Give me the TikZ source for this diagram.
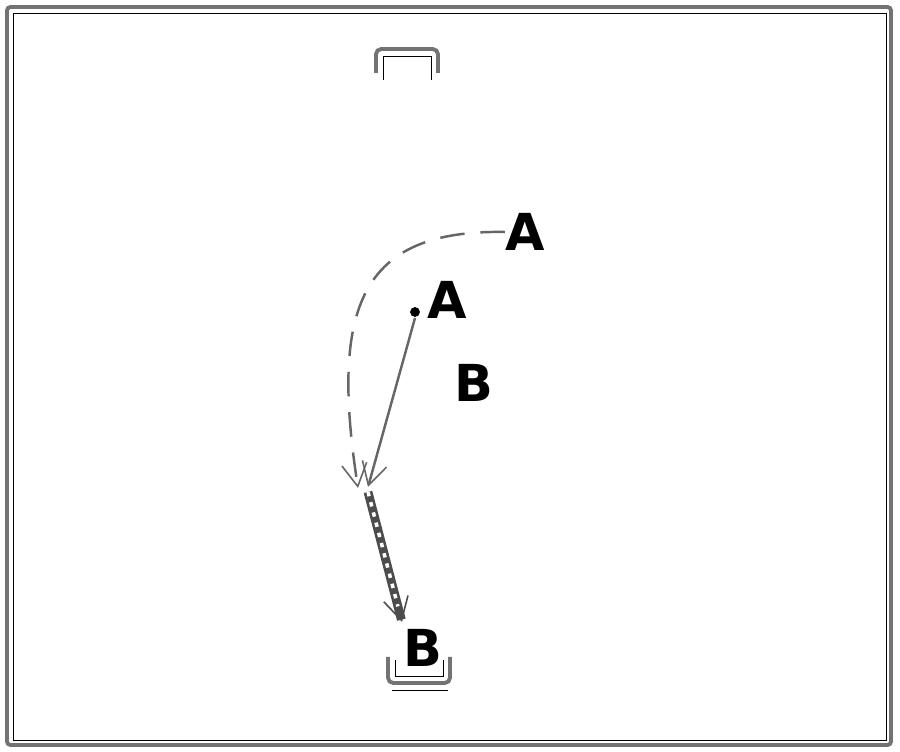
\documentclass[tikz,border=0pt]{standalone}
\usepackage{fontspec}
\setsansfont{DejaVu Sans}
\usetikzlibrary{arrows.meta,calc}
\tikzset{
  lbl/.style={font=\sffamily\bfseries\fontsize{29}{30}\selectfont, inner sep=0pt},
  tipbarb/.style={-{Straight Barb[length=4.5mm,width=5mm,line width=0.9pt]}},
}

\begin{document}
\begin{tikzpicture}
		%%%%% START %%%%%
		\useasboundingbox (0, 0) rectangle (18, 15.04);
		
		\draw[black!55, line width=2.2pt, rounded corners=2pt] (0.14, 0.14) rectangle (17.82, 14.9);
		\draw[black, thin] (0.26, 0.24) rectangle (17.72, 14.78);
		
		\draw[black!55, line width=2.2pt, rounded corners=3pt] (7.52, 13.58) -- (7.52, 14.06) -- (8.76, 14.06) -- (8.76, 13.58);
		\draw[black, thin] (7.66, 13.44) -- (7.66, 13.92) -- (8.62, 13.92) -- (8.62, 13.44);
		
		\draw[black!55, line width=2.2pt, rounded corners=3pt] (7.76, 1.9) -- (7.76, 1.38) -- (9.0, 1.38) -- (9.0, 1.9);
		\draw[black, thin] (7.9, 1.84) -- (7.9, 1.52) -- (8.86, 1.52) -- (8.86, 1.84);
		\draw[black, thin] (7.84, 1.24) -- (8.96, 1.24);
		
		\node[lbl] (Atop) at (10.5, 10.4) {A};
		\node[lbl] (Amid) at (8.94, 9.04) {A};
		\draw[fill=black] (8.3, 8.8) circle (0.09);
		\coordinate (dot) at (8.3, 8.68);
		\node[lbl] (Bmid) at (9.48, 7.38) {B};
		\node[lbl] (Bbot) at (8.46, 2.08) {B};
		
		\coordinate (meet) at (7.16, 5.28);
		\coordinate (meet2) at (7.36, 5.3);
		\coordinate (tail) at (7.36, 5.2);
		\coordinate (head) at (8.04, 2.6);
		
		\draw[black!60, line width=1.4pt, dash pattern=on 14pt off 9pt, tipbarb] (Atop.west) .. controls (7.2, 10.45) and (6.6, 8.9) .. (meet);
		\draw[black!60, line width=1.4pt, tipbarb] (dot) -- (meet2);
		\draw[black!70, line width=5pt, tipbarb] (tail) -- (head);
		\draw[white, line width=2pt, dash pattern=on 2.5pt off 3.5pt] (tail) -- ($(tail)!0.88!(head)$);
		%%%%% END %%%%%
\end{tikzpicture}
\end{document}
